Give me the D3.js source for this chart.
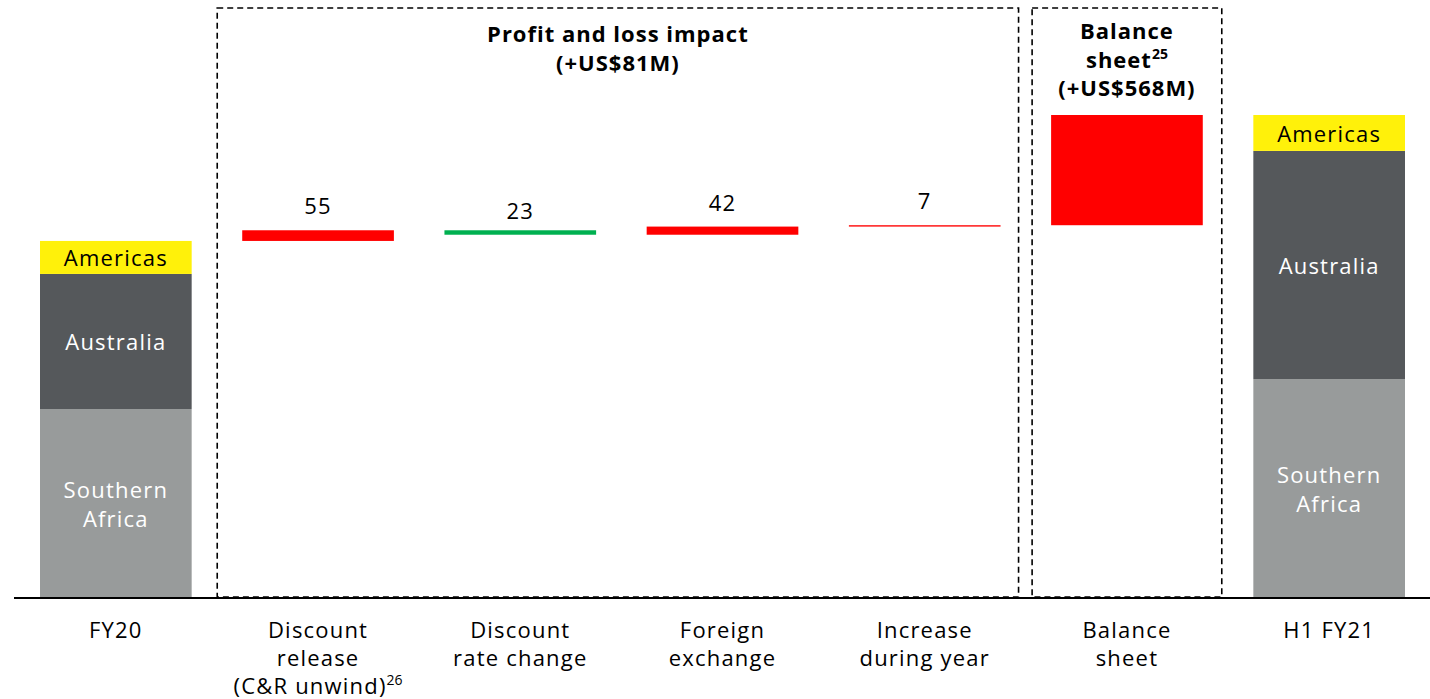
<!DOCTYPE html>
<html>
<head>
<meta charset="utf-8">
<script src="https://cdn.jsdelivr.net/npm/d3@7/dist/d3.min.js"></script>
<style>
  html, body { margin: 0; padding: 0; background: #ffffff; }
  svg { display: block; }
  text { font-family: "Open Sans", "Noto Sans", sans-serif; }
</style>
</head>
<body>
<svg id="chart" width="1430" height="699"></svg>
<script>
// Closure and rehabilitation provision bridge, FY20 to H1 FY21 (US$M)
const categories = ["FY20", "Discount release", "Discount rate change", "Foreign exchange",
                    "Increase during year", "Balance sheet", "H1 FY21"];
const categoryLines = [
  ["FY20"],
  ["Discount", "release", "(C&R unwind)|26"],
  ["Discount", "rate change"],
  ["Foreign", "exchange"],
  ["Increase", "during year"],
  ["Balance", "sheet"],
  ["H1 FY21"]
];
const regions = ["Southern Africa", "Australia", "Americas"];
const regionLines = [["Southern", "Africa"], ["Australia"], ["Americas"]];
const fy20Values = [974, 696, 170];
const h1fy21Values = [1128, 1176, 185];
const stepCategories = categories.slice(1, 6);
const stepValues = [55, -23, 42, 7, 568];
const stepLabels = ["55", "23", "42", "7", null];

const regionColors = ["#989b9b", "#55585b", "#fff10a"];
const regionTextColors = ["#ffffff", "#ffffff", "#000000"];
const increaseColor = "#ff0000";
const decreaseColor = "#00b050";

const fontSize = 22;
const spacing = "1.2px";
const boldSpacing = "1px";

const svg = d3.select("#chart");
const baseY = 598;

const x = d3.scaleBand().domain(categories).range([40, 1405]).paddingInner(0.25).paddingOuter(0);
const fy21Total = d3.sum(h1fy21Values);
const y = d3.scaleLinear().domain([0, fy21Total]).range([baseY, 115]);
const bw = x.bandwidth();

// Stacked totals
function stackedBar(cat, values) {
  let acc = 0;
  const segs = values.map((v, i) => { const s = { i, y0: acc, y1: acc + v }; acc += v; return s; });
  const g = svg.append("g");
  g.selectAll("rect").data(segs).join("rect")
    .attr("x", x(cat)).attr("width", bw)
    .attr("y", d => y(d.y1)).attr("height", d => y(d.y0) - y(d.y1))
    .attr("fill", d => regionColors[d.i]);
  segs.forEach(d => {
    const lines = regionLines[d.i];
    const cy = (y(d.y0) + y(d.y1)) / 2;
    const lh = 29;
    const t = g.append("text")
      .attr("text-anchor", "middle")
      .attr("font-size", fontSize)
      .attr("letter-spacing", spacing)
      .attr("fill", regionTextColors[d.i]);
    lines.forEach((ln, k) => {
      t.append("tspan")
        .attr("x", x(cat) + bw / 2)
        .attr("y", cy + (k - (lines.length - 1) / 2) * lh + 9)
        .text(ln);
    });
  });
  return acc;
}

const fy20Total = stackedBar("FY20", fy20Values);
stackedBar("H1 FY21", h1fy21Values);

// Waterfall steps
let running = fy20Total;
const steps = stepValues.map((v, i) => {
  const s = { cat: stepCategories[i], v, start: running, end: running + v, label: stepLabels[i] };
  running += v;
  return s;
});

svg.append("g").selectAll("rect").data(steps).join("rect")
  .attr("x", d => x(d.cat)).attr("width", bw)
  .attr("y", d => y(Math.max(d.start, d.end)))
  .attr("height", d => Math.abs(y(d.start) - y(d.end)))
  .attr("fill", d => d.v >= 0 ? increaseColor : decreaseColor);

svg.append("g").selectAll("text").data(steps.filter(d => d.label)).join("text")
  .attr("x", d => x(d.cat) + bw / 2)
  .attr("y", d => y(d.end) - 16)
  .attr("text-anchor", "middle")
  .attr("font-size", fontSize)
  .attr("letter-spacing", spacing)
  .attr("fill", "#000")
  .text(d => d.label);

// Dashed group boxes
const boxTop = 8, boxBottom = 597;
const plLeft = x(stepCategories[0]) - 25;
const plRight = x(stepCategories[3]) + bw + 18;
const bsLeft = x(stepCategories[4]) - 19;
const bsRight = x(stepCategories[4]) + bw + 19;
const boxes = [[plLeft, plRight], [bsLeft, bsRight]];
svg.append("g").selectAll("rect").data(boxes).join("rect")
  .attr("x", d => d[0]).attr("y", boxTop)
  .attr("width", d => d[1] - d[0]).attr("height", boxBottom - boxTop)
  .attr("fill", "none").attr("stroke", "#000").attr("stroke-width", 1.6)
  .attr("stroke-dasharray", "6,4");

// Group headings
function heading(cx, lines, y0) {
  const t = svg.append("text").attr("text-anchor", "middle")
    .attr("font-size", fontSize).attr("font-weight", "bold")
    .attr("letter-spacing", boldSpacing).attr("fill", "#000");
  lines.forEach((ln, k) => {
    const ts = t.append("tspan").attr("x", cx).attr("y", y0 + k * 28.5);
    const parts = ln.split("|");
    ts.append("tspan").text(parts[0]);
    if (parts[1]) {
      ts.append("tspan").attr("font-size", 14).attr("letter-spacing", "0px").attr("dy", -9).text(parts[1]);
    }
  });
}
heading((plLeft + plRight) / 2, ["Profit and loss impact", "(+US$81M)"], 42);
heading((bsLeft + bsRight) / 2, ["Balance", "sheet|25", "(+US$568M)"], 39);

// Baseline axis
svg.append("line")
  .attr("x1", 14).attr("x2", 1430)
  .attr("y1", baseY).attr("y2", baseY)
  .attr("stroke", "#000").attr("stroke-width", 2);

// Category labels
const xAxis = d3.axisBottom(x).tickSize(0).tickFormat("");
const axisG = svg.append("g").attr("transform", `translate(0,${baseY})`).call(xAxis);
axisG.select(".domain").remove();
axisG.selectAll(".tick").each(function (cat, i) {
  const t = d3.select(this).append("text")
    .attr("text-anchor", "middle").attr("font-size", fontSize)
    .attr("letter-spacing", spacing).attr("fill", "#000");
  categoryLines[i].forEach((ln, k) => {
    const ts = t.append("tspan").attr("x", 0).attr("y", 39.5 + k * 28);
    const parts = ln.split("|");
    ts.append("tspan").text(parts[0]);
    if (parts[1]) {
      ts.append("tspan").attr("font-size", 14).attr("letter-spacing", "0px").attr("dy", -9).text(parts[1]);
    }
  });
});
</script>
</body>
</html>
